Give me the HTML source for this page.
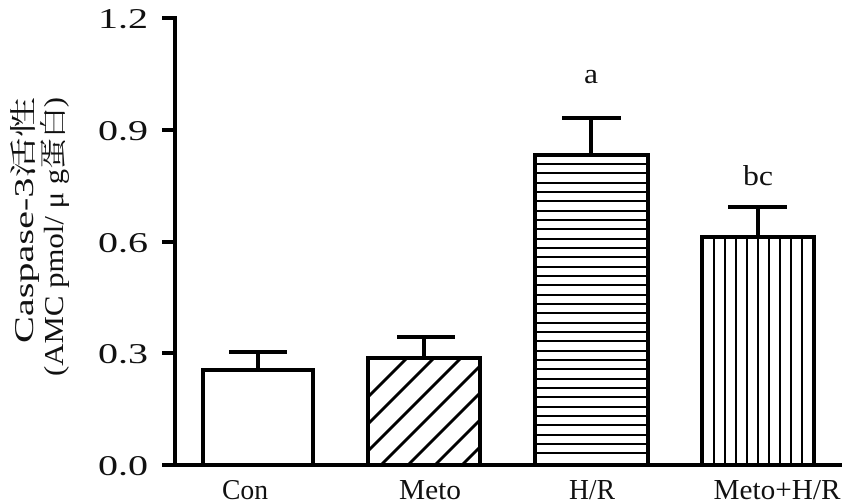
<!DOCTYPE html>
<html><head><meta charset="utf-8"><style>
body{margin:0;background:#fff}
svg{display:block}
text{font-family:"Liberation Serif","Noto Serif CJK SC",serif;fill:#111}
</style></head><body>
<svg width="857" height="504" viewBox="0 0 857 504">
<defs>
<clipPath id="cm"><rect x="368" y="358" width="112" height="107"/></clipPath>
</defs>
<g stroke="#000" stroke-width="4" fill="none">
<line x1="175" y1="16" x2="175" y2="465"/>
<line x1="173" y1="465" x2="842" y2="465"/>
<line x1="162" y1="18" x2="175" y2="18"/>
<line x1="162" y1="130" x2="175" y2="130"/>
<line x1="162" y1="242" x2="175" y2="242"/>
<line x1="162" y1="353" x2="175" y2="353"/>
<line x1="162" y1="465" x2="175" y2="465"/>
</g>
<g font-size="28" text-anchor="end">
<text x="148" y="28" textLength="50" lengthAdjust="spacingAndGlyphs">1.2</text>
<text x="148" y="140" textLength="50" lengthAdjust="spacingAndGlyphs">0.9</text>
<text x="148" y="252" textLength="50" lengthAdjust="spacingAndGlyphs">0.6</text>
<text x="148" y="363" textLength="50" lengthAdjust="spacingAndGlyphs">0.3</text>
<text x="148" y="475" textLength="50" lengthAdjust="spacingAndGlyphs">0.0</text>
</g>
<g font-size="27">
<text transform="translate(33,343) rotate(-90)" textLength="246" lengthAdjust="spacingAndGlyphs">Caspase-3活性</text>
<text transform="translate(63,376) rotate(-90)" textLength="279" lengthAdjust="spacingAndGlyphs">(AMC pmol/ μ g蛋白)</text>
</g>
<g clip-path="url(#cm)" stroke="#000" stroke-width="3">
<line x1="300" y1="465" x2="410" y2="355"/>
<line x1="327" y1="465" x2="437" y2="355"/>
<line x1="354" y1="465" x2="464" y2="355"/>
<line x1="381" y1="465" x2="491" y2="355"/>
<line x1="408" y1="465" x2="518" y2="355"/>
<line x1="435" y1="465" x2="545" y2="355"/>
<line x1="462" y1="465" x2="572" y2="355"/>
</g>
<g stroke="#000" stroke-width="2">
<line x1="535" y1="164" x2="648" y2="164"/><line x1="535" y1="173" x2="648" y2="173"/>
<line x1="535" y1="183" x2="648" y2="183"/><line x1="535" y1="192" x2="648" y2="192"/>
<line x1="535" y1="201" x2="648" y2="201"/><line x1="535" y1="211" x2="648" y2="211"/>
<line x1="535" y1="220" x2="648" y2="220"/><line x1="535" y1="229" x2="648" y2="229"/>
<line x1="535" y1="239" x2="648" y2="239"/><line x1="535" y1="248" x2="648" y2="248"/>
<line x1="535" y1="257" x2="648" y2="257"/><line x1="535" y1="267" x2="648" y2="267"/>
<line x1="535" y1="276" x2="648" y2="276"/><line x1="535" y1="285" x2="648" y2="285"/>
<line x1="535" y1="295" x2="648" y2="295"/><line x1="535" y1="304" x2="648" y2="304"/>
<line x1="535" y1="313" x2="648" y2="313"/><line x1="535" y1="323" x2="648" y2="323"/>
<line x1="535" y1="332" x2="648" y2="332"/><line x1="535" y1="341" x2="648" y2="341"/>
<line x1="535" y1="351" x2="648" y2="351"/><line x1="535" y1="360" x2="648" y2="360"/>
<line x1="535" y1="369" x2="648" y2="369"/><line x1="535" y1="379" x2="648" y2="379"/>
<line x1="535" y1="388" x2="648" y2="388"/><line x1="535" y1="397" x2="648" y2="397"/>
<line x1="535" y1="407" x2="648" y2="407"/><line x1="535" y1="416" x2="648" y2="416"/>
<line x1="535" y1="425" x2="648" y2="425"/><line x1="535" y1="435" x2="648" y2="435"/>
<line x1="535" y1="444" x2="648" y2="444"/><line x1="535" y1="453" x2="648" y2="453"/>
</g>
<g stroke="#000" stroke-width="2">
<line x1="714" y1="237" x2="714" y2="465"/><line x1="725" y1="237" x2="725" y2="465"/>
<line x1="736" y1="237" x2="736" y2="465"/><line x1="747" y1="237" x2="747" y2="465"/>
<line x1="758" y1="237" x2="758" y2="465"/><line x1="769" y1="237" x2="769" y2="465"/>
<line x1="780" y1="237" x2="780" y2="465"/><line x1="791" y1="237" x2="791" y2="465"/>
<line x1="802" y1="237" x2="802" y2="465"/>
</g>
<g stroke="#000" stroke-width="4" fill="none">
<rect x="203" y="370" width="110" height="95"/>
<rect x="368" y="358" width="112" height="107"/>
<rect x="535" y="155" width="113" height="310"/>
<rect x="702" y="237" width="112" height="228"/>
<line x1="258" y1="370" x2="258" y2="352"/><line x1="229" y1="352" x2="287" y2="352"/>
<line x1="424" y1="358" x2="424" y2="337"/><line x1="397" y1="337" x2="455" y2="337"/>
<line x1="591" y1="155" x2="591" y2="118"/><line x1="562" y1="118" x2="621" y2="118"/>
<line x1="758" y1="237" x2="758" y2="207"/><line x1="728" y1="207" x2="787" y2="207"/>
</g>
<g font-size="28" text-anchor="middle">
<text x="591" y="83" textLength="14" lengthAdjust="spacingAndGlyphs">a</text>
<text x="758" y="185" textLength="30" lengthAdjust="spacingAndGlyphs">bc</text>
<text x="245" y="499" textLength="46" lengthAdjust="spacingAndGlyphs">Con</text>
<text x="430" y="499" textLength="62" lengthAdjust="spacingAndGlyphs">Meto</text>
<text x="592" y="499" textLength="46" lengthAdjust="spacingAndGlyphs">H/R</text>
<text x="777" y="499" textLength="127" lengthAdjust="spacingAndGlyphs">Meto+H/R</text>
</g>
</svg>
</body></html>
